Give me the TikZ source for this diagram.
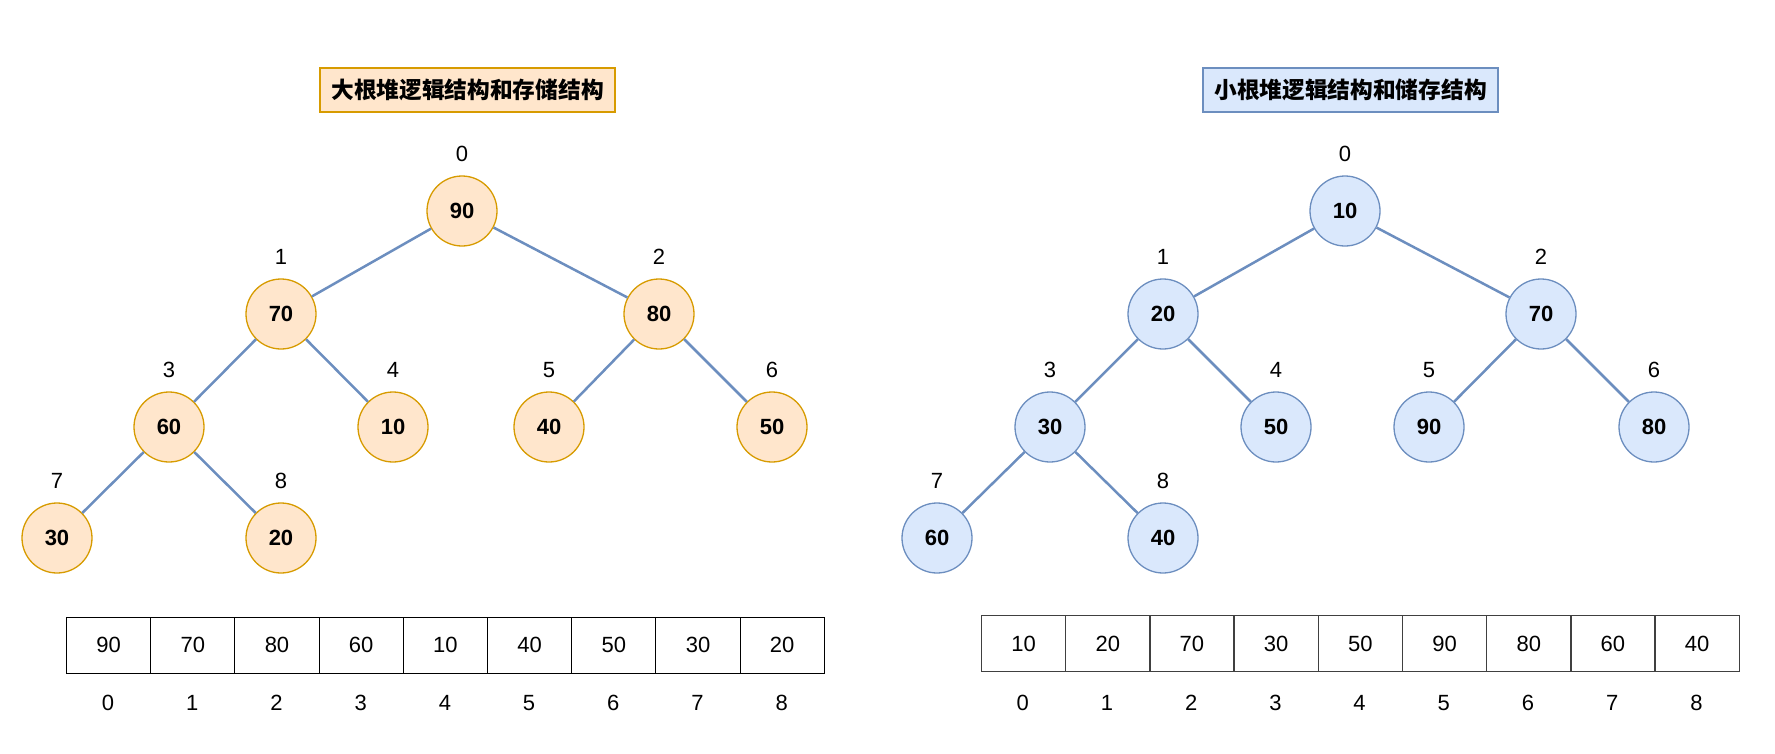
\documentclass[tikz,border=0pt]{standalone}
\usepackage{fontspec}
\setmainfont{Liberation Sans}
\newfontfamily\cjk{Noto Sans CJK SC}
\definecolor{ofill}{HTML}{FFE6CC}
\definecolor{odraw}{HTML}{D79B00}
\definecolor{bfill}{HTML}{DAE8FC}
\definecolor{bdraw}{HTML}{6C8EBF}
\definecolor{cellgray}{HTML}{404040}
\tikzset{
  onode/.style={circle, fill=ofill, draw=odraw, line width=1.3pt, minimum size=70pt, inner sep=0pt, font=\fontsize{22}{26}\selectfont\bfseries},
  bnode/.style={circle, fill=bfill, draw=bdraw, line width=1.3pt, minimum size=70pt, inner sep=0pt, font=\fontsize{22}{26}\selectfont\bfseries},
  idx/.style={font=\fontsize{22}{26}\selectfont, inner sep=0pt},
  edge/.style={draw=bdraw, line width=2.5pt},
  cell/.style={draw=black, line width=1pt, minimum width=84.2pt, minimum height=56pt, inner sep=0pt, font=\fontsize{22}{26}\selectfont, anchor=west},
  titlebox/.style={line width=1.3pt, minimum width=295pt, minimum height=44pt, inner sep=0pt, font=\cjk\fontsize{22.7}{26}\selectfont\bfseries}
}
\begin{document}
\begin{tikzpicture}[x=1pt,y=-1pt]
\useasboundingbox (0,0) rectangle (1775,753);
% titles
\node[titlebox, fill=ofill, draw=odraw] (tl) at (467.5,90) {大根堆逻辑结构和存储结构};
\node[titlebox, fill=bfill, draw=bdraw] (tr) at (1350.5,90) {小根堆逻辑结构和储存结构};
% left tree
\foreach \n/\x/\y/\v in {0/462/211/90,1/281/314/70,2/659/314/80,3/169/427/60,4/393/427/10,5/549/427/40,6/772/427/50,7/57/538/30,8/281/538/20}{
  \node[onode] (L\n) at (\x,\y) {\v};
  \node[idx] (Li\n) at (\x,\y-57) {\n};
}
% right tree
\foreach \n/\x/\y/\v in {0/1345/211/10,1/1163/314/20,2/1541/314/70,3/1050/427/30,4/1276/427/50,5/1429/427/90,6/1654/427/80,7/937/538/60,8/1163/538/40}{
  \node[bnode] (R\n) at (\x,\y) {\v};
  \node[idx] (Ri\n) at (\x,\y-57) {\n};
}
\foreach \t in {L,R}{
  \draw[edge] (\t0) -- (\t1);
  \draw[edge] (\t0) -- (\t2);
  \draw[edge] (\t1) -- (\t3);
  \draw[edge] (\t1) -- (\t4);
  \draw[edge] (\t2) -- (\t5);
  \draw[edge] (\t2) -- (\t6);
  \draw[edge] (\t3) -- (\t7);
  \draw[edge] (\t3) -- (\t8);
}
% arrays
\foreach \v [count=\i from 0] in {90,70,80,60,10,40,50,30,20}{
  \node[cell] (la\i) at (66+84.2*\i,645) {\v};
  \node[idx] (lai\i) at (66+84.2*\i+42.1,703) {\i};
}
\foreach \v [count=\i from 0] in {10,20,70,30,50,90,80,60,40}{
  \node[cell, draw=cellgray, line width=1.5pt] (ra\i) at (980.7+84.2*\i,643.5) {\v};
  \node[idx] (rai\i) at (980.7+84.2*\i+42.1,703) {\i};
}
\end{tikzpicture}
\end{document}
